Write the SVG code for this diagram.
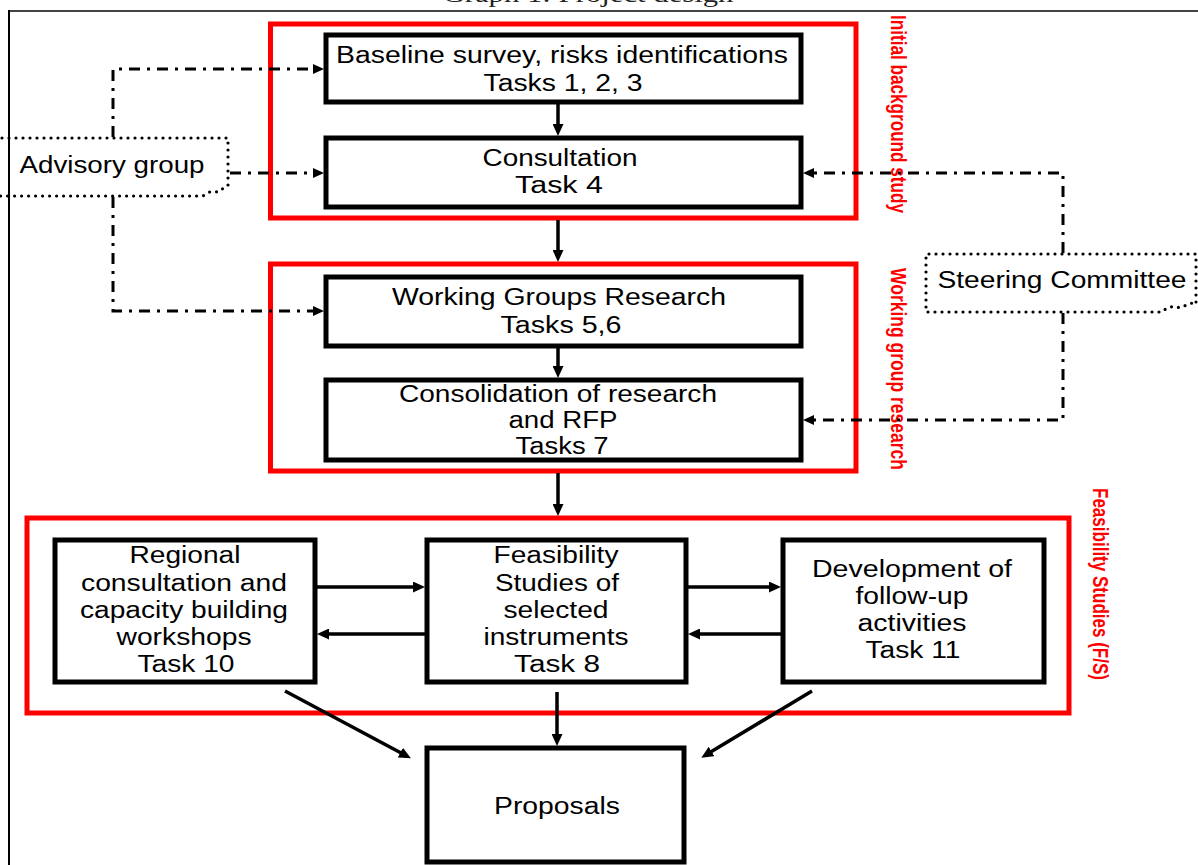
<svg xmlns="http://www.w3.org/2000/svg" width="1198" height="865" viewBox="0 0 1198 865">
<style>
.t{font-family:"Liberation Sans",Arial,sans-serif;font-size:23px;fill:#000;text-anchor:middle}
.lbl{font-family:"Liberation Sans",Arial,sans-serif;font-size:19px;font-weight:bold;fill:#ff0000}
.ttl{font-family:"Liberation Serif","Times New Roman",serif;font-size:24px;fill:#222;text-anchor:middle}
.box{fill:#fff;stroke:#000;stroke-width:5}
.grp{fill:none;stroke:#ff0000;stroke-width:5}
.dot{fill:none;stroke:#000;stroke-width:3.2;stroke-dasharray:0 7;stroke-linecap:round}
.dd{fill:none;stroke:#000;stroke-width:3;stroke-dasharray:11 7 3 7}
.sa{fill:none;stroke:#000;stroke-width:3.5}
</style>
<defs>
<marker id="ah" markerUnits="userSpaceOnUse" markerWidth="12" markerHeight="11" refX="3" refY="5.5" orient="auto">
<path d="M0,0 L12,5.5 L0,11 z" fill="#000"/>
</marker>
<marker id="ahd" markerUnits="userSpaceOnUse" markerWidth="11" markerHeight="10" refX="3" refY="5" orient="auto">
<path d="M0,0 L11,5 L0,10 z" fill="#000"/>
</marker>
</defs>
<rect width="1198" height="865" fill="#fff"/>

<text class="ttl" x="588" y="1.5" textLength="291" lengthAdjust="spacingAndGlyphs">Graph 1: Project design</text>

<g id="frame">
<line x1="8" y1="11" x2="1198" y2="11" stroke="#444" stroke-width="2"/>
<line x1="9" y1="10" x2="9" y2="865" stroke="#000" stroke-width="2"/>
</g>

<g id="group-initial">
<rect class="grp" x="270.5" y="24" width="585.5" height="194"/>
<text class="lbl" transform="translate(891,15) rotate(90) scale(1,1.2)" textLength="198" lengthAdjust="spacingAndGlyphs">Initial background study</text>
</g>
<g id="group-working">
<rect class="grp" x="270.5" y="264" width="585.5" height="207"/>
<text class="lbl" transform="translate(891,268) rotate(90) scale(1,1.2)" textLength="202" lengthAdjust="spacingAndGlyphs">Working group research</text>
</g>
<g id="group-feasibility">
<rect class="grp" x="27" y="518" width="1042" height="195"/>
<text class="lbl" transform="translate(1093,488) rotate(90) scale(1,1.2)" textLength="192" lengthAdjust="spacingAndGlyphs">Feasibility Studies (F/S)</text>
</g>

<g id="baseline">
<rect class="box" x="326" y="35" width="475" height="67"/>
<text class="t" x="562" y="63" textLength="452" lengthAdjust="spacingAndGlyphs">Baseline survey, risks identifications</text>
<text class="t" x="563" y="91" textLength="159" lengthAdjust="spacingAndGlyphs">Tasks 1, 2, 3</text>
</g>
<g id="consultation">
<rect class="box" x="326" y="138" width="475" height="69"/>
<text class="t" x="560" y="166" textLength="155" lengthAdjust="spacingAndGlyphs">Consultation</text>
<text class="t" x="559" y="193" textLength="88" lengthAdjust="spacingAndGlyphs">Task 4</text>
</g>
<g id="wg-research">
<rect class="box" x="326" y="277" width="475" height="69"/>
<text class="t" x="559" y="305" textLength="334" lengthAdjust="spacingAndGlyphs">Working Groups Research</text>
<text class="t" x="561" y="333" textLength="121" lengthAdjust="spacingAndGlyphs">Tasks 5,6</text>
</g>
<g id="consolidation">
<rect class="box" x="326" y="380" width="475" height="80"/>
<text class="t" x="558" y="402" textLength="318" lengthAdjust="spacingAndGlyphs">Consolidation of research</text>
<text class="t" x="563" y="428" textLength="109" lengthAdjust="spacingAndGlyphs">and RFP</text>
<text class="t" x="562" y="454" textLength="93" lengthAdjust="spacingAndGlyphs">Tasks 7</text>
</g>
<g id="regional">
<rect class="box" x="55" y="540" width="260" height="142"/>
<text class="t" x="185" y="563" textLength="111" lengthAdjust="spacingAndGlyphs">Regional</text>
<text class="t" x="184" y="591" textLength="206" lengthAdjust="spacingAndGlyphs">consultation and</text>
<text class="t" x="184" y="618" textLength="208" lengthAdjust="spacingAndGlyphs">capacity building</text>
<text class="t" x="184" y="645" textLength="135" lengthAdjust="spacingAndGlyphs">workshops</text>
<text class="t" x="186" y="672" textLength="97" lengthAdjust="spacingAndGlyphs">Task 10</text>
</g>
<g id="feasibility">
<rect class="box" x="427" y="540" width="259" height="142"/>
<text class="t" x="556" y="563" textLength="125" lengthAdjust="spacingAndGlyphs">Feasibility</text>
<text class="t" x="557" y="591" textLength="124" lengthAdjust="spacingAndGlyphs">Studies of</text>
<text class="t" x="556" y="618" textLength="105" lengthAdjust="spacingAndGlyphs">selected</text>
<text class="t" x="556" y="645" textLength="145" lengthAdjust="spacingAndGlyphs">instruments</text>
<text class="t" x="557" y="672" textLength="86" lengthAdjust="spacingAndGlyphs">Task 8</text>
</g>
<g id="development">
<rect class="box" x="783" y="540" width="261" height="142"/>
<text class="t" x="912" y="577" textLength="200" lengthAdjust="spacingAndGlyphs">Development of</text>
<text class="t" x="912" y="604" textLength="113" lengthAdjust="spacingAndGlyphs">follow-up</text>
<text class="t" x="912" y="631" textLength="109" lengthAdjust="spacingAndGlyphs">activities</text>
<text class="t" x="913" y="658" textLength="95" lengthAdjust="spacingAndGlyphs">Task 11</text>
</g>
<g id="proposals">
<rect class="box" x="427" y="748" width="257" height="114"/>
<text class="t" x="557" y="814" textLength="126" lengthAdjust="spacingAndGlyphs">Proposals</text>
</g>
<g id="advisory">
<path class="dot" d="M-5,138 H228 V186 Q222,189 217,192 Q210,190 203,196 H-5"/>
<text class="t" x="112" y="173" textLength="185" lengthAdjust="spacingAndGlyphs">Advisory group</text>
</g>
<g id="steering">
<path class="dot" d="M1196,302 V254 H926 V312 H1162 Q1170,304 1180,308 Q1188,304 1196,302"/>
<text class="t" x="1062" y="288" textLength="249" lengthAdjust="spacingAndGlyphs">Steering Committee</text>
</g>

<g id="connectors">
<path class="dd" d="M113,137 V69 H316" marker-end="url(#ahd)"/>
<path class="dd" d="M230,173 H316" marker-end="url(#ahd)"/>
<path class="dd" d="M113,197 V311 H316" marker-end="url(#ahd)"/>
<path class="dd" d="M1063,253 V173 H811" marker-end="url(#ahd)"/>
<path class="dd" d="M1063,313 V420 H811" marker-end="url(#ahd)"/>
<path class="sa" d="M558,104 V127" marker-end="url(#ah)"/>
<path class="sa" d="M558,220 V253" marker-end="url(#ah)"/>
<path class="sa" d="M558,348 V369" marker-end="url(#ah)"/>
<path class="sa" d="M558,473 V507" marker-end="url(#ah)"/>
<path class="sa" d="M557,692 V737" marker-end="url(#ah)"/>
<path class="sa" d="M317,587 H416" marker-end="url(#ah)"/>
<path class="sa" d="M425,634 H326" marker-end="url(#ah)"/>
<path class="sa" d="M688,587 H772" marker-end="url(#ah)"/>
<path class="sa" d="M781,634 H697" marker-end="url(#ah)"/>
<path class="sa" d="M285,691 L403,754" marker-end="url(#ah)"/>
<path class="sa" d="M812,691 L709,753" marker-end="url(#ah)"/>
</g>
</svg>
